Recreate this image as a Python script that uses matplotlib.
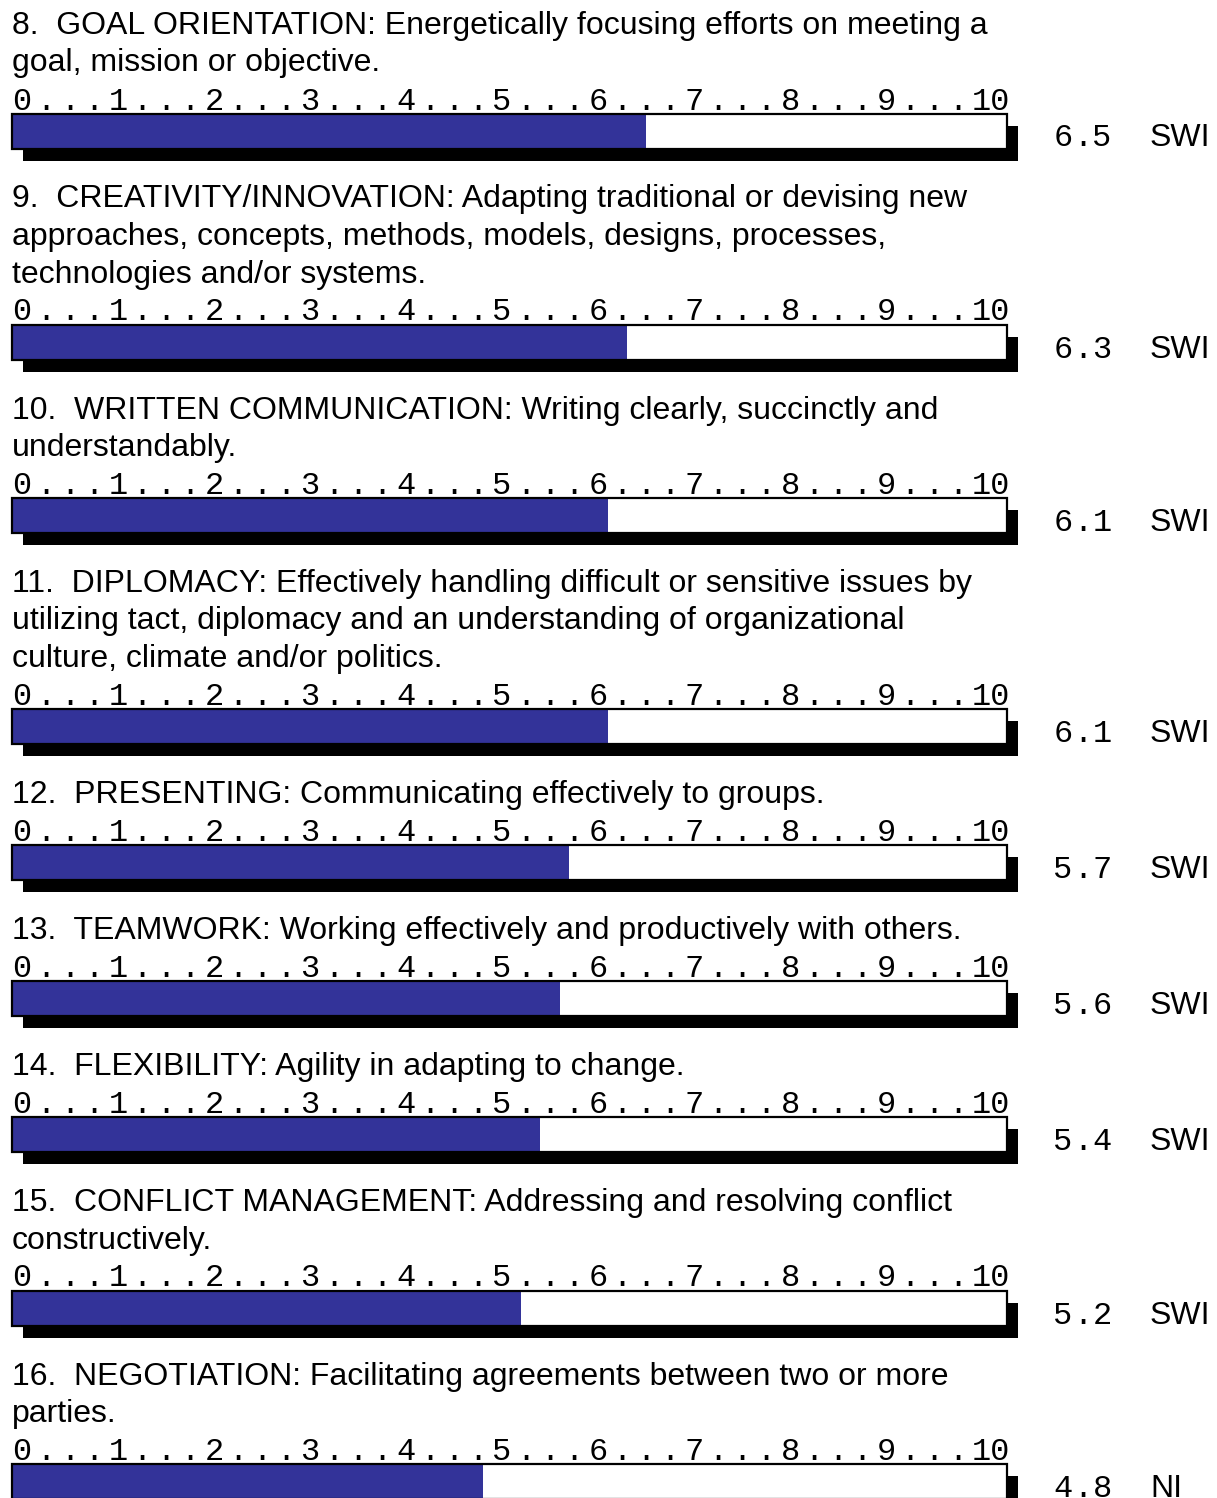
import matplotlib
matplotlib.use("Agg")
import matplotlib.pyplot as plt

# ---------------- data ----------------
item_numbers = [8, 9, 10, 11, 12, 13, 14, 15, 16]
item_titles = [
    "GOAL ORIENTATION", "CREATIVITY/INNOVATION", "WRITTEN COMMUNICATION",
    "DIPLOMACY", "PRESENTING", "TEAMWORK", "FLEXIBILITY",
    "CONFLICT MANAGEMENT", "NEGOTIATION",
]
item_text_lines = [
    ["8.  GOAL ORIENTATION: Energetically focusing efforts on meeting a",
     "goal, mission or objective."],
    ["9.  CREATIVITY/INNOVATION: Adapting traditional or devising new",
     "approaches, concepts, methods, models, designs, processes,",
     "technologies and/or systems."],
    ["10.  WRITTEN COMMUNICATION: Writing clearly, succinctly and",
     "understandably."],
    ["11.  DIPLOMACY: Effectively handling difficult or sensitive issues by",
     "utilizing tact, diplomacy and an understanding of organizational",
     "culture, climate and/or politics."],
    ["12.  PRESENTING: Communicating effectively to groups."],
    ["13.  TEAMWORK: Working effectively and productively with others."],
    ["14.  FLEXIBILITY: Agility in adapting to change."],
    ["15.  CONFLICT MANAGEMENT: Addressing and resolving conflict",
     "constructively."],
    ["16.  NEGOTIATION: Facilitating agreements between two or more",
     "parties."],
]
scores = [6.5, 6.3, 6.1, 6.1, 5.7, 5.6, 5.4, 5.2, 4.8]
ratings = ["SWI", "SWI", "SWI", "SWI", "SWI", "SWI", "SWI", "SWI", "NI"]
scale_min, scale_max = 0, 10

# ---------------- layout (pixels) ----------------
W, H = 1217, 1498
X0 = 22.0       # pixel of value 0
UNIT = 96.0     # pixels per unit


def px(x):
    return (x - X0) / UNIT


def dpx(d):
    return d / UNIT


BLUE = "#333399"
SANS = ["Liberation Sans", "DejaVu Sans"]
MONO = ["Liberation Mono", "DejaVu Sans Mono"]
TITLE_FS = 23
MONO_FS = 23

fig = plt.figure(figsize=(W / 100, H / 100), dpi=100)
ax = fig.add_axes([0, 0, 1, 1])
ax.set_xlim(px(0), px(W))
ax.set_ylim(H, 0)
ax.axis("off")

bar_left = px(12)
bar_right = px(1007)
bar_h = 35
shadow_dx = dpx(11)
shadow_dy = 12
line_gap = 37.5

base = 34.0
for num, lines, val, rat in zip(item_numbers, item_text_lines, scores, ratings):
    # title lines
    for i, ln in enumerate(lines):
        ax.text(px(12), base + i * line_gap, ln, family=SANS, fontsize=TITLE_FS,
                ha="left", va="baseline", color="black")
    y_scale = base + (len(lines) - 1) * line_gap + 38
    # scale text: a mark every quarter unit
    steps = int((scale_max - scale_min) * 4)
    for k in range(steps + 1):
        q = scale_min + k / 4
        if k % 4 == 0:
            s = str(int(q))
            if len(s) == 1:
                ax.text(q, y_scale, s, family=MONO, fontsize=MONO_FS,
                        ha="center", va="baseline", color="black")
            else:
                ax.text(q - dpx(10), y_scale, s, family=MONO, fontsize=MONO_FS,
                        ha="left", va="baseline", color="black")
        else:
            ax.text(q, y_scale, ".", family=MONO, fontsize=MONO_FS,
                    ha="center", va="baseline", color="black")
    bar_top = y_scale + 4
    yc = bar_top + bar_h / 2
    # shadow
    ax.barh(yc + shadow_dy, bar_right - bar_left, left=bar_left + shadow_dx,
            height=bar_h, color="black", zorder=1)
    # white background
    ax.barh(yc, bar_right - bar_left, left=bar_left, height=bar_h,
            color="white", zorder=2)
    # value bar
    ax.barh(yc, val - bar_left, left=bar_left, height=bar_h, color=BLUE, zorder=3)
    # border
    ax.barh(yc, bar_right - bar_left, left=bar_left, height=bar_h,
            facecolor="none", edgecolor="black", linewidth=1.6, zorder=4)
    # value text, letter-spaced monospace
    vs = f"{val:.1f}"
    for j, ch in enumerate(vs):
        ax.text(px(1063 + j * 19.5), bar_top + 33, ch, family=MONO,
                fontsize=MONO_FS, ha="center", va="baseline", color="black")
    ax.text(px(1150), bar_top + 33, rat, family=SANS, fontsize=TITLE_FS,
            ha="left", va="baseline", color="black")
    base = bar_top + 94

fig.savefig("out.png", dpi=100, facecolor="white")
